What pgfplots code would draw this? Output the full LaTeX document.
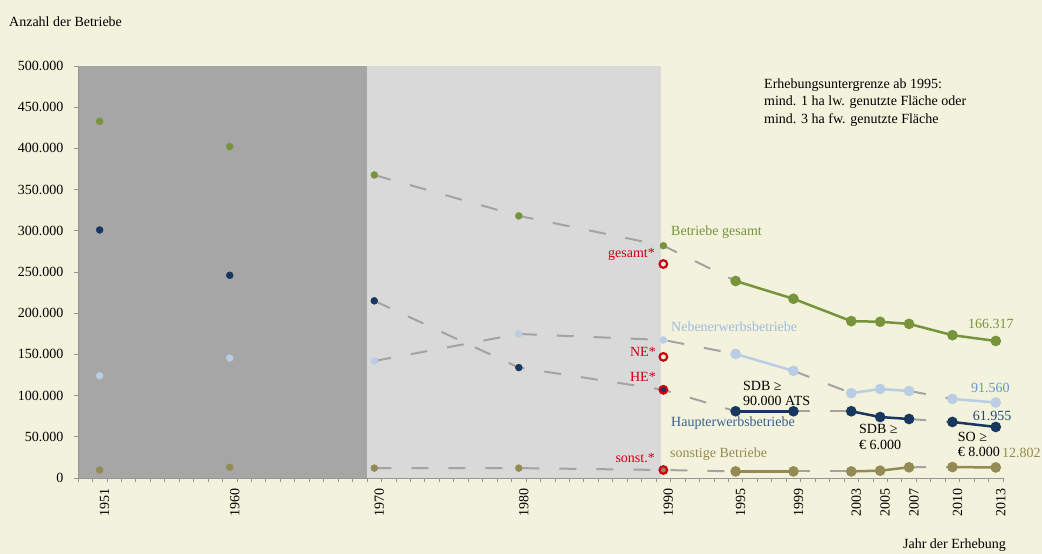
\documentclass[border=0pt]{standalone}
\usepackage{pgfplots}
\pgfplotsset{compat=1.18}
\usepackage{fontspec}
\setmainfont{Liberation Serif}
\definecolor{bg}{RGB}{243,242,220}
\definecolor{dgray}{RGB}{166,166,166}
\definecolor{lgray}{RGB}{217,217,217}
\definecolor{dashc}{RGB}{163,163,163}
\definecolor{axgray}{RGB}{150,150,150}
\definecolor{cgreen}{RGB}{119,147,60}
\definecolor{cnavy}{RGB}{23,55,94}
\definecolor{clblue}{RGB}{185,205,229}
\definecolor{ctan}{RGB}{148,138,84}
\definecolor{cred}{RGB}{204,0,16}
\definecolor{heblue}{RGB}{55,96,146}
\definecolor{netext}{RGB}{160,188,222}
\definecolor{nenum}{RGB}{100,150,210}
\definecolor{henum}{RGB}{31,73,125}

\pgfplotsset{
  dashl/.style={draw=dashc, line width=2bp, dash pattern=on 17bp off 20bp, no marks},
  sol/.style={color=#1, line width=2.5bp, mark=*, mark size=4bp, mark options={solid, draw=none, fill=#1}},
  mk/.style={only marks, color=#1, mark=*, mark size=3.5bp, mark options={draw=none, fill=#1}},
}

\begin{document}
\begin{tikzpicture}[every node/.style={font=\fontsize{14bp}{17bp}\selectfont}]
\fill[bg] (-78bp,-76bp) rectangle (964bp,478bp);
\begin{axis}[
  at={(0,0)}, anchor=south west,
  scale only axis, width=925bp, height=412bp,
  xmin=1949.5, xmax=2013.5, ymin=0, ymax=500000,
  axis x line*=bottom, axis y line*=left,
  axis line style={draw=axgray, line width=0.8bp},
  every tick/.style={draw=axgray, line width=0.8bp},
  tick align=outside,
  major tick length=4bp,
  xtick={1949.5,1950.5,...,2013.5},
  xticklabels={},
  extra x ticks={1951,1960,1970,1980,1990,1995,1999,2003,2005,2007,2010,2013},
  extra x tick labels={1951,1960,1970,1980,1990,1995,1999,2003,2005,2007,2010,2013},
  extra x tick style={major tick length=0pt, tick label style={rotate=90, anchor=east, xshift=-7bp, yshift=-5bp}},
  ytick={0,50000,...,500000},
  scaled y ticks=false,
  yticklabel style={xshift=-7bp, /pgf/number format/.cd, fixed, 1000 sep={.}},
  tick label style={font=\fontsize{14bp}{17bp}\selectfont, text=black},
  /pgf/number format/assume math mode=true,
  clip=false,
  axis on top,
]
% grey backgrounds
\addplot[draw=none, fill=dgray] coordinates {(1949.5,0) (1949.5,500000) (1969.5,500000) (1969.5,0)} -- cycle;
\addplot[draw=none, fill=lgray] coordinates {(1969.5,0) (1969.5,500000) (1989.85,500000) (1989.85,0)} -- cycle;

% dashed connections
\addplot[dashl] coordinates {(1970,367738) (1980,318085) (1990,281910) (1995,239099)};
\addplot[dashl] coordinates {(1970,142000) (1980,174800) (1990,167500) (1995,150500)};
\addplot[dashl] coordinates {(1970,215000) (1980,134000) (1990,107000) (1995,81000)};
\addplot[dashl] coordinates {(1970,12000) (1980,12000) (1990,9700) (1995,8000)};
\addplot[dashl] coordinates {(1999,130000) (2003,103000)};
\addplot[dashl] coordinates {(2007,105600) (2010,96000)};
\addplot[dashl] coordinates {(1999,81000) (2003,81000)};
\addplot[dashl] coordinates {(2007,71600) (2010,68000)};
\addplot[dashl] coordinates {(1999,8000) (2003,8000)};
\addplot[dashl] coordinates {(2007,13000) (2010,13300)};

% solid segments
\addplot[sol=cgreen] coordinates {(1995,239099) (1999,217508) (2003,190382) (2005,189591) (2007,187034) (2010,173317) (2013,166317)};
\addplot[sol=clblue] coordinates {(1995,150500) (1999,130000)};
\addplot[sol=clblue] coordinates {(2003,103000) (2005,108000) (2007,105600)};
\addplot[sol=clblue] coordinates {(2010,96000) (2013,91560)};
\addplot[sol=cnavy] coordinates {(1995,81000) (1999,81000)};
\addplot[sol=cnavy] coordinates {(2003,81000) (2005,74000) (2007,71600)};
\addplot[sol=cnavy] coordinates {(2010,68000) (2013,61955)};
\addplot[sol=ctan] coordinates {(1995,8000) (1999,8000)};
\addplot[sol=ctan] coordinates {(2003,8000) (2005,8900) (2007,13000)};
\addplot[sol=ctan] coordinates {(2010,13300) (2013,12802)};

% markers 1951-1990
\addplot[mk=cgreen] coordinates {(1951,432848) (1960,402286) (1970,367738) (1980,318085) (1990,281910)};
\addplot[mk=clblue] coordinates {(1951,124000) (1960,145600) (1970,142000) (1980,174800) (1990,167500)};
\addplot[mk=cnavy] coordinates {(1951,301000) (1960,246000) (1970,215000) (1980,134000) (1990,107000)};
\addplot[mk=ctan] coordinates {(1951,9700) (1960,13000) (1970,12000) (1980,12000) (1990,9700)};

% red rings 1990 (revised counts)
\addplot[only marks, color=cred, mark=*, mark size=3.8bp, mark options={draw=cred, line width=2.2bp, fill=bg}] coordinates {(1990,259700) (1990,147000)};
\addplot[only marks, color=cred, mark=o, mark size=3.8bp, mark options={draw=cred, line width=2.2bp}] coordinates {(1990,107000) (1990,9700)};
\end{axis}

\begin{scope}[shift={(-78bp,478bp)}, x=1bp, y=-1bp]
\node[anchor=base west, inner sep=0pt] at (9,27) {Anzahl der Betriebe};
\node[anchor=base east, inner sep=0pt] at (1006,549) {Jahr der Erhebung};
\node[anchor=base west, inner sep=0pt] at (764,88.3) {Erhebungsuntergrenze ab 1995:};
\node[anchor=base west, inner sep=0pt] at (764,106) {mind. 1 ha lw. genutzte Fläche oder};
\node[anchor=base west, inner sep=0pt] at (764,123.5) {mind. 3 ha fw. genutzte Fläche};

\node[anchor=base west, inner sep=0pt, text=cgreen] at (671,236) {Betriebe gesamt};
\node[anchor=base west, inner sep=0pt, text=netext] at (671,331.5) {Nebenerwerbsbetriebe};
\node[anchor=base west, inner sep=0pt, text=heblue] at (671,427) {Haupterwerbsbetriebe};
\node[anchor=base west, inner sep=0pt, text=ctan] at (670,458) {sonstige Betriebe};

\node[anchor=base east, inner sep=0pt, text=cred] at (655,258) {gesamt*};
\node[anchor=base east, inner sep=0pt, text=cred] at (656,357) {NE*};
\node[anchor=base east, inner sep=0pt, text=cred] at (656,382) {HE*};
\node[anchor=base east, inner sep=0pt, text=cred] at (655,462.5) {sonst.*};

\node[anchor=base west, inner sep=0pt] at (743,391) {SDB ≥};
\node[anchor=base west, inner sep=0pt] at (743,406) {90.000 ATS};
\node[anchor=base west, inner sep=0pt] at (859,433.3) {SDB ≥};
\node[anchor=base west, inner sep=0pt] at (859,449.3) {€ 6.000};
\node[anchor=base west, inner sep=0pt] at (957.7,441.7) {SO ≥};
\node[anchor=base west, inner sep=0pt] at (957.7,456.7) {€ 8.000};

\node[anchor=base west, inner sep=0pt, text=cgreen] at (968,329) {166.317};
\node[anchor=base west, inner sep=0pt, text=nenum] at (971,392.7) {91.560};
\node[anchor=base west, inner sep=0pt, text=henum] at (972.7,421) {61.955};
\node[anchor=base west, inner sep=0pt, text=ctan] at (1002,458) {12.802};
\end{scope}
\pgfresetboundingbox
\useasboundingbox (-78bp,-76bp) rectangle (964bp,478bp);
\end{tikzpicture}
\end{document}
